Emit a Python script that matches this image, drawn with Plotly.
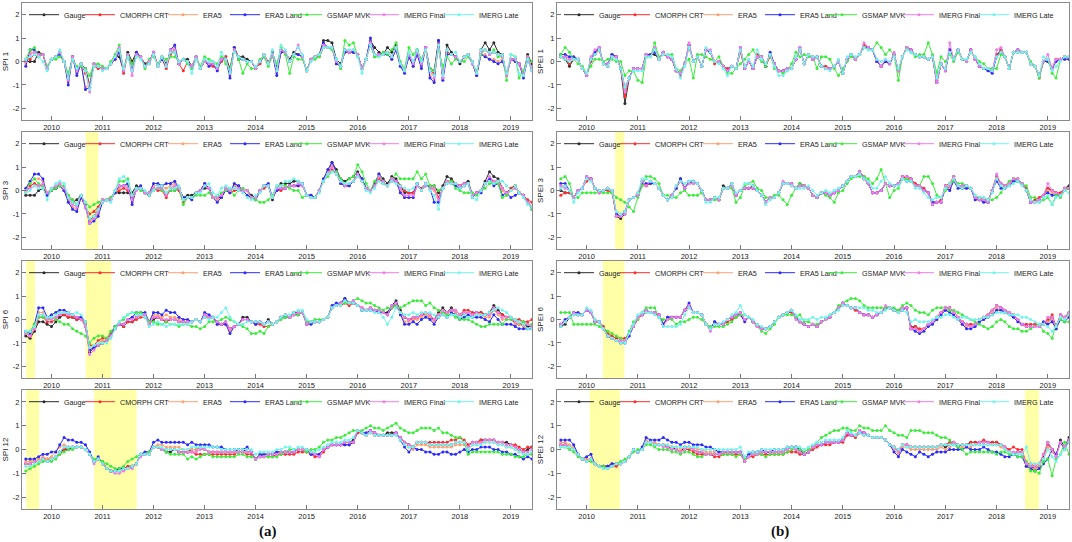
import pandas as pd
import plotly.graph_objects as go

W, H = 1072, 542

# monthly series, Jul 2009 - Jun 2019
DATES = pd.date_range("2009-07-01", periods=120, freq="MS")

SERIES = ["Gauge", "CMORPH CRT", "ERA5", "ERA5 Land", "GSMAP MVK", "IMERG Final", "IMERG Late"]
COLORS = ["#2b2b2b", "#ff2a2a", "#ffa070", "#2a2aff", "#3cec3c", "#f07cf0", "#6ff5ec"]

# all index values below are in tenths
spi1_gauge = [0, 0, 0, 4, 3, -3, 1, 2, 4, 0, -6, 2,
              -3, -1, -3, -10, -1, -2, -3, -3, -1, 2, 2, -4,
              4, 0, 4, 2, -1, 0, 4, -2, 2, -1, 4, 4,
              -1, 1, 1, -2, 2, -3, 0, -1, -1, -3, 1, 2,
              -3, 6, 2, 2, 1, 0, -3, 0, 3, -1, 4, -2,
              5, 4, 1, 4, 3, 2, -4, 1, 2, 3, 9, 9,
              8, 1, -1, 5, 4, 4, 3, -3, 1, 9, 6, 4,
              3, 6, 4, 7, -1, -4, 3, -1, 5, 0, 6, -3,
              -4, 9, -7, 7, 4, 2, -1, 2, 3, 0, -6, 5,
              8, 5, 8, 4, 3, -6, 1, 1, -1, -5, 3, -1]
spi1_cmorph = [1, 1, 3, 2, 3, -3, 1, 2, 4, 0, -7, 2,
               -4, -1, -5, -10, -2, -3, -3, -3, -1, 1, 5, -5,
               3, -1, 3, 2, -2, -1, 3, -1, 1, -3, 3, 5,
               -1, -4, 0, -2, 2, -3, 0, -1, -2, -3, 0, 2,
               -5, 5, 1, 1, 0, 0, -3, -1, 3, 0, 3, -4,
               4, 4, 0, 3, 3, 2, -4, 1, 2, 2, 6, 6,
               6, 0, -2, 5, 4, 4, 3, -3, 1, 7, 2, 3,
               3, 4, 2, 6, -1, -4, 2, -1, 4, 0, 6, -4,
               -5, 8, -7, 4, 3, 2, 0, 2, 3, -1, -5, 4,
               5, 3, 4, 3, 3, -6, 1, 1, -1, -6, 2, -3]
spi1_era5 = [-1, 4, 4, 3, 3, -3, 1, 2, 3, 0, -9, 2,
             -5, -1, -11, -10, -1, -2, -3, -3, -1, 1, 4, -4,
             3, -3, 4, 2, -2, 0, 4, -2, 1, -2, 5, 6,
             -1, 1, 0, -3, 2, -3, 0, -2, -1, -4, 1, 1,
             -6, 6, 1, 1, 0, 0, -3, 0, 2, -1, 3, -5,
             4, 4, 0, 3, 3, 2, -4, 1, 2, 3, 7, 6,
             6, -1, -2, 4, 4, 4, 3, -3, 1, 9, 3, 3,
             3, 3, 1, 5, -2, -4, 2, -2, 3, -2, 6, -6,
             -8, 8, -7, 3, 3, 2, 0, 2, 3, -1, -6, 3,
             3, 1, 1, 0, 1, -5, 1, 0, -1, -6, 1, -3]
spi1_era5land = [-2, 5, 5, 3, 3, -3, 1, 2, 3, 0, -10, 2,
                 -6, -1, -12, -11, -1, -2, -3, -3, -1, 1, 4, -4,
                 3, -4, 4, 2, -2, 0, 4, -2, 1, -2, 5, 7,
                 -1, 1, 0, -3, 2, -3, 0, -2, -1, -4, 1, 1,
                 -7, 6, 1, 1, 0, 0, -3, 0, 2, -1, 3, -6,
                 4, 4, 0, 3, 3, 2, -4, 1, 2, 3, 8, 6,
                 6, -1, -2, 4, 4, 4, 3, -3, 1, 10, 3, 3,
                 3, 3, 1, 5, -2, -5, 2, -2, 3, -3, 6, -7,
                 -9, 9, -8, 3, 3, 2, 0, 2, 3, -1, -6, 3,
                 2, 1, 0, -1, 0, -5, 1, 0, -1, -7, 1, -4]
spi1_gsmap = [1, 5, 6, 2, 3, -2, 1, 1, 2, 0, -5, 1,
              -2, -2, -3, -6, -1, -1, -2, -3, 0, 3, 7, -3,
              3, -1, 2, 2, -3, 1, 2, -1, 2, 1, 2, 2,
              0, 1, -1, -3, 2, -2, 2, 1, 0, -1, 2, -1,
              -3, 5, 1, -5, -1, -3, -3, 1, 2, -2, 2, -1,
              6, 3, -5, 2, 1, 1, -4, 1, 1, 2, 6, 6,
              5, 1, -3, 9, 7, 8, 2, -3, 1, 7, 2, 2,
              4, 3, 5, 8, 0, -3, 6, 3, 5, 1, 5, -3,
              -4, 5, -2, 2, -1, 1, 0, 0, 2, -1, -4, 3,
              5, 3, 5, 2, 2, -8, 3, 2, -7, -4, 2, 0]
spi1_imergf = [0, 3, 4, 3, 3, -3, 1, 2, 4, 0, -8, 2,
               -4, -1, -4, -13, -1, -2, -3, -3, -1, 2, 6, -4,
               3, -6, 3, 2, -2, 0, 4, -2, 2, -2, 5, 5,
               -1, 1, 0, -2, 2, -3, 0, -1, -1, -3, 1, 1,
               -5, 5, 2, 1, 0, 0, -3, 0, 3, -1, 3, -4,
               5, 4, 0, 3, 7, 2, -4, 1, 2, 3, 7, 6,
               6, 0, -2, 5, 4, 5, 3, -3, 1, 8, 3, 3,
               3, 4, 2, 6, -1, -4, 3, -1, 4, -1, 6, -4,
               -7, 7, -7, 5, 3, 2, 0, 2, 3, -1, -5, 4,
               5, 3, 4, 3, 2, -6, 1, 1, -1, -6, 2, -3]
spi1_imergl = [1, 2, 3, 2, 0, -4, 1, 2, 5, 0, -7, 1,
               -3, -1, -4, -12, -2, -2, -4, -3, -1, 2, 5, -3,
               2, -4, 2, 1, -2, -1, 3, -2, 2, -2, 4, 4,
               0, 1, 0, -5, 1, -3, 1, 0, 0, -2, 4, 1,
               -5, 4, 2, 1, 0, 0, -2, 0, 3, -1, 5, -4,
               7, 5, 0, 3, 6, 3, -4, 0, 2, 3, 6, 6,
               6, 1, -2, 5, 5, 5, 2, -5, 1, 7, 3, 2,
               3, 4, 2, 6, -1, -4, 4, 0, 5, 0, 5, -4,
               -6, 7, -6, 5, 3, 4, 0, 2, 3, 0, -5, 5,
               5, 4, 4, 3, 3, -5, 3, 2, -5, -6, 1, -4]

spi3_gauge = [-2, -2, -2, 0, 1, -2, 0, 1, 2, 0, -3, -5,
              -4, -2, -6, -13, -11, -8, -4, -4, -4, -1, -1, -1,
              -1, -1, 2, 1, -1, -2, 0, 1, 1, -2, 0, 0,
              1, -3, -2, -2, -1, 0, 1, 1, -3, -3, -3, 1,
              0, 2, 2, 0, 0, -2, -3, 0, 2, 2, -4, 1,
              3, 3, 3, 4, 4, 3, -2, -2, -3, 0, 4, 7,
              12, 9, 5, 4, 5, 6, 8, 5, 1, 0, 3, 7,
              5, 3, 6, 5, 2, -1, -1, -1, 3, 0, 2, 2,
              2, -1, 2, 6, 5, 3, 2, 3, 4, -2, -1, 0,
              4, 8, 6, 5, 1, -1, 1, 2, -1, -2, -5, -7]
spi3_cmorph = [-1, 2, 3, 2, 2, -2, 1, 1, 3, 1, -2, -4,
               -6, -3, -7, -10, -9, -7, -4, -4, -3, -1, 0, 1,
               0, -3, 1, 1, -1, -1, 1, 0, 0, -3, 1, 1,
               0, -5, -3, -3, -1, 0, 3, 1, -3, -3, -2, 0,
               -1, 0, 0, 0, 0, -3, -3, 0, 1, 2, -3, 0,
               0, 1, 2, 2, 2, 2, -2, -3, -3, 0, 4, 7,
               9, 7, 4, 2, 2, 4, 6, 4, 1, 0, 2, 5,
               3, 2, 4, 4, 2, 0, -1, -1, 2, 1, 3, 1,
               1, -3, 1, 4, 4, 3, 2, 3, 3, -2, -1, 0,
               3, 5, 4, 4, 1, -1, 1, 2, -1, -2, -4, -5]
spi3_era5 = [0, 4, 5, 5, 4, -2, 0, 1, 2, 0, -4, -7,
             -8, -3, -7, -13, -12, -10, -5, -4, -4, -1, 1, 2,
             2, -5, 1, 2, -1, -1, 2, 2, 2, 1, 2, 3,
             1, -3, -3, -3, -1, 0, 2, 1, -3, -4, -3, 0,
             -1, 2, 2, 0, -2, -3, -4, 0, 2, 2, -3, 0,
             1, 1, 2, 2, 2, 3, -2, -2, -3, 0, 5, 8,
             11, 8, 3, 2, 2, 4, 7, 4, 1, 0, 2, 6,
             3, 2, 5, 4, 0, -3, -3, -3, 2, 0, 3, 1,
             0, -5, 1, 3, 3, 2, 1, 2, 3, -3, -1, -1,
             3, 5, 3, 3, 0, -2, 0, 1, -1, -2, -5, -7]
spi3_era5land = [1, 4, 7, 7, 5, -2, 0, 1, 2, 0, -5, -8,
                 -9, -3, -7, -14, -13, -11, -5, -4, -4, -1, 2, 2,
                 3, -6, 1, 2, -1, -1, 3, 3, 2, 3, 3, 4,
                 1, -3, -3, -4, -1, 0, 3, 1, -3, -5, -3, 0,
                 -1, 3, 2, 0, -2, -3, -4, 0, 2, 3, -3, 0,
                 1, 1, 2, 2, 2, 3, -2, -2, -3, 0, 5, 9,
                 12, 8, 3, 2, 2, 4, 7, 5, 1, 0, 2, 7,
                 3, 2, 5, 4, -1, -3, -3, -3, 3, 0, 3, 1,
                 -5, -5, 1, 3, 3, 2, 1, 2, 3, -3, -1, -1,
                 3, 5, 2, 3, -2, -1, -3, -2, -1, -2, -5, -8]
spi3_gsmap = [0, 3, 5, 3, 2, -1, 0, 1, 2, 2, -2, -4,
              -6, -2, -5, -7, -6, -5, -4, -4, -3, 0, 4, 4,
              5, -2, 1, 0, -1, -1, 0, 1, 0, -1, 0, 0,
              1, -6, -3, -3, -2, -2, -2, -1, -3, -2, -1, 0,
              1, -2, 0, 1, 0, -3, -4, -5, -5, -4, -2, 2,
              2, 2, 1, 0, 0, -3, -2, -3, -3, 0, 4, 6,
              8, 8, 5, 3, 5, 6, 11, 8, 3, 0, 4, 6,
              4, 2, 5, 7, 5, 5, 5, 5, 8, 5, 7, 2,
              2, 0, 1, 4, 4, 1, 0, -1, -1, -1, -2, 0,
              1, 3, 3, 3, -3, -2, 0, 2, -1, -3, -5, -8]
spi3_imergf = [0, 1, 2, 2, 3, -1, 1, 2, 3, 1, -3, -6,
               -7, -2, -7, -14, -12, -9, -4, -4, -4, 0, 2, 2,
               1, -4, 0, 1, -1, -1, 1, 1, 1, -2, 1, 2,
               1, -4, -3, -3, -1, 0, 2, 1, -3, -3, -2, 1,
               0, 1, 1, 0, 0, -3, -3, 0, 2, 2, -3, 1,
               1, 1, 2, 2, 3, 2, -2, -3, -3, 0, 4, 7,
               10, 7, 4, 2, 3, 4, 7, 4, 1, 0, 2, 6,
               4, 2, 5, 4, 1, -2, -2, -2, 2, 0, 2, 1,
               1, -4, 1, 4, 3, 3, 2, 3, 3, -2, -1, 0,
               3, 6, 4, 4, 1, -1, 0, 1, -1, -2, -5, -7]
spi3_imergl = [-1, 0, 2, 1, 1, -4, 1, 3, 4, 3, -3, -5,
               -6, -2, -5, -12, -11, -8, -5, -4, -5, 0, 5, 6,
               4, -2, 1, 1, 0, -2, 0, 2, 2, -1, 1, 1,
               2, -4, -3, -3, -1, -1, 2, 3, -1, -2, 1, 2,
               1, 1, 0, -1, -3, -4, -2, -1, 2, 2, -3, 2,
               2, 4, 4, 5, 4, 3, -2, -3, -3, -1, 4, 7,
               8, 7, 4, 3, 3, 4, 6, 4, 0, -1, 1, 4,
               3, 2, 4, 3, 2, 1, 0, 1, 3, 0, 3, 0,
               -2, -8, 1, 3, 3, 3, 1, 2, 3, -3, -4, 0,
               3, 4, 3, 4, 4, 2, 0, 2, -1, -3, -6, -7]

spi6_gauge = [-7, -8, -5, -1, -1, -2, -3, -1, 1, 2, 1, 1,
              0, 1, -3, -14, -12, -11, -10, -9, -7, -4, -2, -3,
              -1, -1, 1, 2, 2, -2, 0, 1, 0, -1, 0, 0,
              -1, -1, -1, -1, 0, -1, 2, 1, 1, -1, -2, -1,
              -4, -3, -2, 1, 1, -1, -1, -1, -2, 0, -2, -1,
              1, 2, 1, 3, 3, 3, -1, -1, -1, -1, 0, 1,
              5, 6, 7, 9, 7, 8, 6, 4, 4, 5, 4, 4,
              3, 3, 6, 8, 4, 1, 0, 1, 1, 2, 2, 1,
              0, 3, 5, 3, 5, 3, 1, 3, 3, 2, 3, 3,
              2, 3, 6, 4, 2, 1, 1, -2, -2, -2, -3, -3]
spi6_cmorph = [-6, -7, -4, 1, 1, -1, -1, 0, 2, 2, 1, 1,
               0, 0, -2, -11, -11, -9, -8, -8, -6, -3, -2, -3,
               -1, -1, 0, 1, 1, -2, 1, 1, 0, -1, 0, 0,
               -1, -1, -1, -1, 0, -1, 1, 1, 1, -2, -2, -2,
               -4, -3, -2, 0, 0, -1, -2, -2, -3, -3, -2, -1,
               1, 2, 1, 2, 3, 3, -2, -1, -1, -1, 0, 1,
               5, 6, 6, 7, 6, 7, 6, 5, 4, 5, 4, 3,
               3, 2, 5, 6, 3, 1, 0, 0, 1, 2, 3, 2,
               0, 2, 3, 3, 4, 4, 2, 4, 4, 3, 3, 3,
               2, 2, 4, 3, 2, 1, 1, 0, 0, -1, -1, 0]
spi6_era5 = [-6, -7, -4, 3, 3, 0, 1, 1, 3, 3, 2, 2,
             1, 1, -2, -13, -12, -10, -9, -9, -7, -3, -2, -2,
             0, 1, 2, 2, 2, -1, 2, 2, 1, 2, 1, 1,
             0, -1, -1, -1, 0, -1, 2, 1, 1, -2, -2, -2,
             -5, -3, -2, 0, 0, -1, -2, -1, -2, -1, -2, -1,
             1, 2, 1, 2, 2, 3, -1, -1, -1, -1, 0, 1,
             5, 6, 7, 8, 7, 7, 6, 4, 4, 5, 4, 3,
             3, 2, 5, 6, 3, -1, -1, 0, 0, 1, 2, 1,
             -1, 2, 3, 2, 4, 3, 1, 2, 3, 2, 2, 2,
             1, 1, 4, 2, 0, 0, 0, -2, -2, -3, -4, -4]
spi6_era5land = [-5, -6, -2, 5, 5, 1, 2, 3, 4, 4, 3, 2,
                 1, 1, -1, -13, -12, -11, -10, -9, -7, -3, -2, -2,
                 0, 1, 3, 3, 3, -1, 3, 3, 2, 4, 3, 3,
                 1, 0, 0, -1, 0, -1, 3, 2, 1, -2, -2, -2,
                 -6, -3, -2, 0, 0, -1, -2, -1, -2, -1, -2, -1,
                 1, 1, 1, 2, 2, 3, -2, -2, -1, -1, 0, 1,
                 6, 7, 7, 9, 7, 7, 6, 4, 4, 4, 4, 3,
                 3, 2, 5, 7, 2, -2, -2, -1, -2, 0, 1, 0,
                 -2, 1, 2, 1, 3, 2, 0, 1, 2, 1, 1, 1,
                 0, -1, 2, 0, -2, -2, -2, -3, -4, -4, -4, -4]
spi6_gsmap = [-6, -5, -2, 1, 1, 0, 1, 0, -1, -2, -2, -4,
              -5, -6, -7, -10, -8, -7, -7, -8, -5, -3, -1, 0,
              2, 3, 3, 3, 2, -1, -1, -2, -2, -1, -2, -2,
              -3, -2, -2, -3, -3, -4, -3, -1, -1, -1, 0, 1,
              0, -1, -2, -3, -4, -6, -6, -5, -6, -3, -2, -1,
              0, 1, 1, 2, 2, 3, -1, -1, 0, 0, 0, 1,
              5, 6, 7, 7, 7, 8, 9, 8, 7, 7, 6, 5,
              4, 5, 5, 6, 5, 6, 7, 8, 8, 8, 6, 7,
              5, 4, 3, 2, 2, 1, 0, 0, 0, -1, -2, -3,
              -3, -2, -2, -2, -2, 0, 0, 0, -1, -1, -2, -2]
spi6_imergf = [-6, -7, -4, 2, 2, 0, 0, 1, 2, 3, 2, 2,
               1, 0, -3, -15, -13, -11, -10, -9, -7, -4, -2, -2,
               0, 0, 1, 2, 2, -2, 1, 1, 0, 0, 0, 0,
               -1, -1, -1, -1, 0, -1, 2, 1, 1, -1, -2, -1,
               -4, -3, -2, 0, 0, -1, -1, -1, -2, -1, -2, -1,
               1, 2, 1, 2, 3, 3, -2, -1, -1, -1, 0, 1,
               5, 6, 7, 8, 7, 8, 6, 5, 4, 5, 4, 4,
               3, 2, 6, 7, 3, 1, 0, 1, 1, 2, 3, 2,
               0, 2, 4, 3, 4, 4, 2, 3, 3, 2, 3, 2,
               2, 2, 5, 3, 1, 1, 1, -1, -1, -2, -2, -3]
spi6_imergl = [-5, -5, -3, 2, 2, 1, 1, 2, 3, 3, 3, 2,
               3, 2, -1, -12, -11, -10, -10, -10, -8, -4, -1, 1,
               2, 3, 2, 2, 1, -3, -2, -1, -2, -3, -2, -2,
               -2, -2, -2, -1, 0, -1, 1, 0, 1, 1, 3, 5,
               1, -1, -2, -2, -1, -1, -1, -1, -2, -1, -2, -1,
               1, 2, 2, 3, 4, 4, 0, -1, -1, -1, 0, 1,
               5, 6, 6, 8, 7, 7, 6, 4, 4, 4, 3, 3,
               1, -2, 1, 5, 3, 2, 2, 3, 2, 3, 3, 3,
               2, 1, 2, 1, 2, 2, 1, 2, 1, 1, 2, 2,
               2, 3, 4, 5, 4, 3, 1, 0, -1, -2, -4, -4]

spi12_gauge = [-6, -6, -5, -5, -4, -5, -4, -3, -1, 0, 0, 1,
               1, 1, 0, -2, -5, -4, -5, -8, -9, -9, -9, -8,
               -8, -7, -6, -2, -2, -2, 1, 1, 0, -1, -1, 0,
               -1, -1, -1, 0, 0, 1, 0, -1, -1, -1, -1, -1,
               -1, -1, 0, 0, -1, -1, -4, -3, -2, -2, -2, -1,
               -1, -1, -1, -1, 0, 0, 0, -1, -2, -2, 0, 1,
               2, 2, 2, 3, 3, 4, 8, 7, 6, 8, 7, 6,
               6, 7, 7, 7, 5, 3, 2, 1, 3, 3, 3, 2,
               2, 2, 2, 2, 2, 3, 3, 3, 1, 3, 3, 4,
               4, 4, 4, 3, 3, 3, 2, 1, 0, -1, 0, 1]
spi12_cmorph = [-6, -6, -5, -5, -4, -4, -4, -3, -2, 0, 1, 1,
                1, 1, 0, -2, -5, -4, -6, -8, -9, -9, -9, -8,
                -7, -7, -6, -2, -2, -2, 1, 1, 0, 0, 0, 0,
                -1, -1, -1, -1, -2, -2, -2, -2, -2, -2, -2, -2,
                -2, -2, -1, -1, -2, -2, -4, -3, -3, -3, -3, -2,
                -2, -2, -2, -2, -1, -1, -1, -2, -3, -3, -1, 1,
                2, 2, 2, 2, 2, 3, 7, 7, 6, 7, 6, 6,
                6, 6, 6, 7, 5, 3, 2, 1, 3, 3, 3, 3,
                3, 3, 3, 3, 4, 4, 5, 4, 2, 3, 3, 4,
                4, 4, 4, 3, 3, 2, 2, 2, 1, 0, 1, 1]
spi12_era5 = [-5, -5, -4, -4, -3, -4, -3, -1, 1, 2, 1, 1,
              1, 1, 0, -2, -5, -4, -5, -8, -9, -9, -9, -8,
              -8, -7, -6, -2, -2, -2, 1, 2, 2, 1, 1, 1,
              1, 0, 0, 0, 0, 1, 0, -1, -1, -1, -1, -1,
              -1, -1, -1, -1, -1, -1, -4, -2, -2, -2, -2, -1,
              -1, -1, -1, -1, 0, 0, 0, -1, -2, -2, 0, 1,
              2, 2, 2, 2, 2, 3, 8, 7, 6, 8, 6, 6,
              6, 6, 6, 7, 4, 2, 1, 0, 2, 2, 2, 1,
              1, 1, 1, 1, 1, 2, 2, 2, 0, 2, 2, 3,
              3, 3, 3, 2, 2, 1, 1, 0, -1, -2, -2, -2]
spi12_era5land = [-4, -4, -4, -3, -2, -2, -1, -1, 2, 5, 4, 4,
                  3, 3, 2, -1, -5, -3, -6, -8, -9, -9, -8, -8,
                  -8, -7, -6, -2, -1, -1, 3, 4, 3, 3, 3, 3,
                  3, 3, 2, 3, 2, 2, 2, 2, 1, 1, 1, 0,
                  0, 0, 0, 0, 1, -1, -4, -2, -2, -2, -2, -1,
                  -1, -1, -1, -1, 0, 0, 0, -2, -2, -2, 0, 1,
                  2, 2, 2, 2, 2, 3, 8, 7, 7, 8, 7, 6,
                  6, 6, 6, 7, 4, 1, -1, 1, 0, 0, -1, -1,
                  -2, -2, -1, -1, -2, -2, -1, 0, -1, 0, 0, 1,
                  1, 1, 0, 0, -1, -1, -2, -2, -3, -4, -3, -4]
spi12_gsmap = [-9, -8, -7, -6, -5, -5, -5, -4, -2, -1, 0, 0,
               1, 1, 0, -2, -4, -4, -5, -6, -7, -8, -8, -7,
               -5, -4, -3, -2, -2, -1, 1, 1, 0, -1, -2, -2,
               -2, -2, -4, -3, -4, -3, -2, -2, -3, -3, -3, -3,
               -3, -3, -2, -2, -3, -3, -4, -3, -3, -3, -3, -3,
               -2, -1, 0, 0, 0, 0, -1, 0, 0, 1, 3, 4,
               4, 5, 5, 6, 7, 8, 8, 8, 9, 10, 9, 9,
               8, 9, 10, 11, 9, 8, 7, 7, 8, 9, 9, 9,
               8, 9, 7, 7, 6, 5, 5, 3, -2, -1, -1, -1,
               -1, -1, -1, -1, -2, -2, -2, -3, -3, -3, -2, -2]
spi12_imergf = [-6, -6, -5, -5, -4, -5, -4, -3, -1, 1, 1, 1,
                1, 1, 0, -2, -6, -4, -6, -8, -9, -10, -10, -9,
                -8, -8, -6, -3, -2, -2, 1, 1, 0, 0, 0, 0,
                -1, -1, -1, -1, -1, 0, 0, -1, -1, -1, -1, -1,
                -1, -1, -1, -1, -1, -1, -4, -3, -3, -2, -2, -2,
                -1, -1, -1, -1, 0, 0, 0, -1, -2, -3, 0, 1,
                2, 2, 2, 3, 3, 3, 8, 7, 6, 8, 7, 6,
                6, 6, 6, 7, 5, 3, 2, 1, 3, 3, 3, 2,
                2, 2, 2, 2, 2, 3, 3, 3, 1, 3, 3, 3,
                4, 4, 4, 3, 3, 2, 2, 1, 0, -1, -1, 0]
spi12_imergl = [-7, -7, -6, -5, -4, -5, -4, -3, -1, 1, 1, 1,
                1, 1, 0, -2, -5, -4, -6, -8, -9, -9, -9, -8,
                -8, -7, -6, -2, -2, -2, 1, 1, 1, 0, 0, 0,
                0, 0, 0, 1, 1, 1, 1, 1, 1, 1, 0, 0,
                0, 0, 0, 0, 0, 0, -2, -1, -1, -1, -1, 0,
                0, 1, 1, 0, 1, 1, 0, -1, -1, 0, 1, 2,
                3, 3, 3, 4, 4, 5, 8, 7, 6, 7, 6, 6,
                6, 6, 6, 6, 4, 2, 1, 1, 3, 3, 3, 2,
                2, 2, 2, 2, 2, 3, 3, 3, 0, 2, 2, 2,
                3, 3, 3, 2, 2, 1, 1, 0, -1, -2, -2, -1]

spei1_gauge = [2, 1, -2, 1, 1, -3, -6, 1, 3, 5, -1, -2,
               3, 2, -3, -18, -7, -3, -3, -3, 3, 3, 3, 1,
               4, 2, 1, -4, -5, -1, 7, 0, 2, -2, 5, 4,
               0, 0, -2, -4, -2, -3, 5, -3, 0, -3, 2, 2,
               -2, 3, -1, -4, -4, -3, -3, 1, 5, -1, 3, 1,
               2, -2, -3, -3, -2, 0, -5, 1, 3, 1, 3, 6,
               6, 5, 0, -2, 0, -1, 3, -4, 2, 6, 5, 3,
               2, 2, 1, 2, -9, -1, -4, 5, 1, 5, 1, 0,
               5, 1, -2, -3, -3, -4, 2, 5, 2, -3, 4, 5,
               4, 4, -1, -2, -6, 0, 1, -3, 1, 1, 2, 2]
spei1_cmorph = [2, 2, -1, 1, 1, -3, -6, 0, 4, 5, -1, -1,
                2, 2, -3, -15, -7, -3, -3, -3, 2, 3, 4, 1,
                3, 2, 1, -4, -6, -1, 6, 0, 2, -2, 5, 4,
                -1, 0, -2, -3, -2, -3, 4, -3, 0, -3, 3, 2,
                -2, 2, -1, -4, -4, -3, -3, 1, 5, -1, 3, 2,
                2, -2, -2, -3, -2, 0, -5, 1, 3, 1, 3, 7,
                6, 5, 0, -2, 0, -1, 3, -4, 2, 6, 5, 3,
                2, 2, 1, 2, -8, -1, -3, 5, 1, 5, 1, 0,
                5, 1, -2, -3, -3, -4, 3, 5, 2, -3, 4, 4,
                4, 4, -1, -2, -7, 0, 0, -3, 1, 1, 2, 2]
spei1_era5 = [3, 3, 1, 2, 1, -3, -6, 1, 4, 6, -1, -1,
              3, 2, -3, -12, -7, -3, -3, -3, 3, 3, 4, 1,
              4, 2, 1, -4, -5, -1, 7, 0, 2, -2, 5, 4,
              0, 0, -2, -4, -2, -3, 5, -3, 0, -3, 2, 2,
              -2, 3, -1, -4, -4, -3, -3, 1, 5, -1, 3, 1,
              2, -2, -3, -3, -2, 0, -5, 1, 3, 1, 3, 6,
              6, 5, 0, -2, 0, -1, 3, -4, 2, 6, 5, 3,
              2, 2, 1, 2, -9, -1, -4, 5, 1, 5, 1, 0,
              5, 1, -2, -3, -3, -4, 2, 4, 2, -3, 4, 5,
              4, 4, -1, -2, -6, 0, 1, -3, 1, 1, 1, 1]
spei1_era5land = [3, 3, 2, 2, 1, -3, -6, 1, 4, 6, -1, -1,
                  3, 2, -3, -11, -7, -3, -3, -3, 3, 3, 4, 1,
                  4, 2, 1, -4, -5, -1, 7, 0, 2, -2, 5, 4,
                  0, 0, -2, -4, -2, -3, 6, -3, 0, -3, 2, 2,
                  -2, 4, -1, -4, -4, -3, -3, 1, 6, -1, 3, 1,
                  2, -2, -3, -3, -2, 0, -5, 1, 3, 1, 3, 6,
                  6, 5, 0, -2, 0, -1, 3, -4, 2, 6, 5, 3,
                  2, 2, 1, 2, -9, -1, -4, 5, 1, 5, 1, 0,
                  5, 1, -2, -3, -4, -5, 2, 4, 2, -3, 4, 5,
                  4, 4, -1, -2, -6, 0, 0, -3, 0, 1, 1, 1]
spei1_gsmap = [3, 6, 4, 1, -1, -2, -5, -2, 1, 1, 0, 1,
               1, 0, 0, -6, -4, -4, -8, -9, 2, 2, 8, 2,
               3, 3, 3, -3, -4, -1, 1, -7, 3, 3, 2, 1,
               0, 2, -2, -5, -5, -3, -1, 1, 3, 5, 2, 0,
               -2, 3, -3, -4, -5, -4, -1, 4, 2, 3, 2, 2,
               -3, 2, 2, 1, -3, -6, -3, 0, 2, 1, 3, 6,
               5, 5, 8, 6, 3, 5, 3, -8, 2, 6, 4, 2,
               3, 3, 8, 3, -5, 2, 0, 3, 0, 4, 1, 0,
               4, 2, 0, -1, -3, -3, -3, 3, 2, -3, 4, 4,
               4, 4, 0, -2, -7, 0, 1, -5, -7, 1, 2, 2]
spei1_imergf = [2, 2, 1, 1, 1, -3, -6, 2, 5, 6, -1, -1,
                2, 2, -3, -13, -7, -3, -3, -3, 3, 2, 6, 1,
                4, 2, 1, -4, -5, -1, 8, 0, 2, -2, 5, 5,
                0, 0, -2, -4, -2, -3, 6, -3, 0, -3, 2, 2,
                -1, 3, -1, -4, -4, -3, -3, 1, 6, -1, 3, 1,
                2, -2, -3, -3, -2, 0, -5, 1, 3, 1, 3, 8,
                6, 5, 1, -2, 1, -1, 4, -4, 2, 6, 5, 3,
                2, 2, 1, 2, -9, -1, -4, 8, 1, 5, 1, 0,
                5, 1, -2, -3, -3, -4, 5, 6, 2, -3, 4, 5,
                4, 4, -1, -2, -6, 0, 3, -3, 1, 1, 2, 2]
spei1_imergl = [2, 1, 0, 1, 1, -3, -5, 1, 3, 5, -1, -2,
                2, 1, -3, -11, -7, -4, -4, -4, 2, 2, 5, 1,
                3, 3, 2, -3, -7, -2, 6, 0, 2, -2, 6, 4,
                0, -1, -3, -6, -2, -3, 5, -2, 1, -2, 5, 1,
                -1, 3, -2, -6, -6, -4, -3, 2, 5, -1, 3, 2,
                2, -2, -3, -4, -2, 1, -5, 2, 3, 2, 3, 6,
                5, 5, 1, 0, 1, 0, 2, -3, 2, 5, 4, 3,
                2, 2, 1, 2, -7, -1, -3, 4, 1, 5, 1, 1,
                4, 2, -1, -3, -3, -4, 2, 4, 2, -3, 4, 4,
                4, 4, -1, -2, -6, 2, 1, -4, -2, 0, 2, 2]

spei3_gauge = [0, -1, -1, -3, 0, 1, 5, 5, 1, -1, 0, 1,
               0, -11, -12, -10, -4, -3, -2, 4, 2, 4, 3, 1,
               -2, -4, -2, 1, 5, 1, 3, 4, 3, 0, -4, -4,
               -3, -4, 2, 1, 3, -2, 0, 1, 1, 2, 0, -2,
               -5, -3, -3, -1, 3, 3, 3, 1, 3, 2, 1, -2,
               -3, -1, -1, -2, -1, 0, 2, 4, 6, 6, 8, 5,
               3, -1, -1, 0, 3, 2, 2, 3, 6, 6, 5, 2,
               2, 0, -1, -6, -5, -5, 2, 1, 6, 2, 2, 2,
               1, -3, -4, -4, -5, 0, 6, 3, 2, 3, 5, 5,
               3, 0, -5, -5, -4, -2, 1, 0, -1, -2, 1, 2]
spei3_cmorph = [-2, -1, -1, -3, 0, 1, 4, 5, 1, -1, 0, 0,
                -1, -10, -11, -9, -4, -3, -1, 3, 2, 3, 3, 1,
                -2, -4, -2, 1, 4, 1, 3, 3, 3, -1, -4, -4,
                -3, -4, 1, 1, 2, -2, 0, 1, 1, 1, 0, -2,
                -5, -3, -3, -1, 3, 3, 2, 1, 2, 2, 1, -2,
                -3, -1, -1, -2, -1, 0, 2, 4, 6, 6, 8, 6,
                3, -1, -1, 0, 3, 2, 2, 3, 6, 5, 5, 3,
                2, 1, -1, -5, -5, -4, 2, 3, 6, 2, 2, 2,
                1, -3, -3, -4, -4, 0, 6, 3, 2, 3, 5, 4,
                3, 1, -5, -4, -3, -2, 1, 0, -1, -1, 1, 1]
spei3_era5 = [2, 2, 0, -3, 0, 1, 5, 5, 1, 0, 0, 1,
              0, -10, -11, -9, -4, -3, -2, 3, 3, 3, 3, 1,
              -2, -4, -2, 1, 4, 1, 3, 3, 3, 0, -4, -4,
              -3, -4, 1, 1, 2, -2, 0, 1, 1, 1, 0, -2,
              -5, -3, -3, -1, 3, 3, 3, 1, 2, 2, 1, -2,
              -3, -1, -1, -2, -1, 0, 2, 4, 6, 6, 8, 5,
              3, -1, -1, 0, 3, 2, 2, 3, 5, 5, 4, 2,
              2, 0, -1, -5, -5, -5, 1, 1, 5, 2, 1, 1,
              1, -3, -4, -4, -5, 0, 5, 2, 1, 3, 4, 4,
              3, 0, -5, -5, -4, -2, 0, -1, -2, -2, 0, 1]
spei3_era5land = [3, 3, 0, -3, 0, 1, 6, 5, 1, 0, 0, 1,
                  0, -10, -11, -9, -4, -3, -2, 3, 3, 3, 3, 1,
                  -2, -4, -2, 1, 5, 1, 4, 4, 3, 0, -4, -4,
                  -3, -4, 1, 1, 2, -2, 0, 1, 1, 1, 0, -2,
                  -5, -3, -3, -1, 3, 3, 3, 1, 2, 2, 1, -2,
                  -3, -1, -1, -2, -1, 0, 2, 4, 6, 6, 8, 5,
                  3, -1, -1, 0, 3, 2, 2, 3, 5, 4, 4, 2,
                  2, 0, -1, -5, -5, -5, 1, 0, 4, 1, 1, 1,
                  1, -4, -4, -5, -5, 0, 4, 1, 1, 2, 4, 4,
                  3, 0, -5, -5, -4, -2, -1, -2, -2, -2, 0, 1]
spei3_gsmap = [5, 6, 3, -3, -3, -1, -1, -1, -1, -1, -1, -1,
               -1, -3, -4, -5, -7, -9, -3, 2, 6, 6, 5, 3,
               -2, -2, -3, -3, -1, 0, -2, -2, -2, -1, -4, -4,
               -4, -4, 1, 1, 1, -5, -3, 2, 3, 4, 1, 0,
               -3, -3, -2, -2, -4, -6, -2, 1, 3, 2, 1, -2,
               -3, -1, -2, -3, -5, -1, 0, 3, 5, 6, 6, 6,
               5, 3, 5, 9, 3, -3, 0, 1, 5, 5, 4, 2,
               2, 6, 6, 3, -2, -3, 0, 3, 4, 3, 3, 2,
               1, -2, -3, -3, -4, -4, -3, -1, 2, 4, 5, 4,
               3, 2, -3, -3, -5, -4, -3, -6, -2, -3, 0, 1]
spei3_imergf = [2, 1, 0, -3, 0, 1, 6, 5, 1, -1, 0, 1,
                0, -11, -11, -10, -4, -3, -2, 4, 2, 4, 3, 1,
                -2, -4, -2, 2, 4, 1, 3, 3, 3, 0, -4, -4,
                -3, -4, 1, 1, 2, -2, 0, 1, 1, 1, 0, -2,
                -5, -3, -3, -1, 4, 3, 3, 1, 2, 2, 1, -2,
                -3, -1, -1, -2, -1, 0, 2, 4, 6, 6, 8, 5,
                3, -1, -1, 0, 3, 2, 2, 3, 6, 6, 5, 2,
                2, 0, -1, -6, -5, -5, 2, 2, 6, 2, 2, 2,
                1, -3, -4, -4, -5, 0, 7, 3, 2, 3, 5, 5,
                3, 0, -5, -5, -4, -2, 3, 0, -1, -2, 1, 1]
spei3_imergl = [1, 2, 0, -5, -1, 1, 5, 4, 1, 0, 0, 1,
                0, -9, -10, -9, -4, -3, -1, 5, 5, 4, 3, 1,
                -2, -4, -3, 2, 4, 3, 4, 4, 3, 0, -5, -5,
                -3, -3, 1, 1, 3, -1, 0, 3, 3, 2, 0, -2,
                -6, -4, -3, -1, 3, 3, 2, 1, 1, 1, 2, 0,
                -2, -1, 0, -1, 0, 1, 2, 4, 6, 6, 7, 5,
                4, 1, 1, 4, 6, 3, 2, 2, 5, 4, 4, 1,
                1, -1, -3, -4, -3, -3, 1, 3, 5, 2, 1, 2,
                1, -2, -3, -3, -4, -1, 5, 2, 1, 2, 3, 4,
                2, 0, -4, -5, -5, -3, -2, -6, -3, -2, 0, -1]

spei6_gauge = [-3, -2, 1, 3, 2, 2, 4, 3, -1, -1, -4, -7,
               -8, -9, -9, -9, -6, -3, 1, 2, 4, 3, 3, 2,
               -2, 1, 1, 1, 1, 4, 6, 3, 3, 2, -2, -4,
               -1, -2, -2, 0, 1, 2, 3, 0, 1, -1, -3, -4,
               -4, -3, -1, 1, 2, 3, 4, 1, -1, -2, -3, -2,
               -3, -1, 0, 1, 3, 5, 7, 6, 5, 5, 3, 2,
               2, 1, 2, 3, 5, 5, 4, 3, 5, 5, -4, -3,
               -5, -4, -2, -1, 1, 3, 5, 5, 3, 1, -1, -2,
               -3, -2, 0, 1, 2, 4, 6, 5, 4, 3, 2, 0,
               -2, -3, -3, -3, -3, -2, -1, 1, -4, 2, 1, 3]
spei6_cmorph = [-2, -1, 1, 2, 2, 2, 4, 3, 0, -1, -3, -6,
                -7, -8, -8, -8, -6, -3, 0, 2, 3, 3, 3, 1,
                -2, 0, 1, 1, 1, 4, 5, 3, 3, 2, -2, -4,
                -2, -2, -2, -1, 0, 1, 2, 0, 1, -1, -2, -4,
                -4, -3, -1, 1, 2, 3, 3, 1, -1, -2, -3, -2,
                -3, -1, 0, 1, 3, 5, 6, 6, 5, 4, 3, 2,
                2, 1, 2, 3, 5, 5, 4, 4, 5, 5, -3, -3,
                -4, -4, -2, -1, 1, 3, 5, 5, 3, 1, -1, -2,
                -2, -2, 0, 1, 2, 4, 6, 5, 4, 3, 2, 0,
                -2, -2, -2, -2, -2, -2, 0, 2, -3, 2, 1, 2]
spei6_era5 = [-2, -1, 1, 3, 2, 2, 4, 3, -1, -1, -4, -7,
              -8, -9, -9, -9, -6, -3, 1, 2, 4, 3, 3, 2,
              -2, 1, 1, 1, 1, 4, 6, 3, 3, 2, -2, -4,
              -1, -2, -2, 0, 1, 2, 2, 0, 1, -1, -3, -4,
              -4, -3, -1, 1, 2, 3, 4, 1, -1, -2, -3, -2,
              -3, -1, 0, 1, 3, 5, 7, 6, 5, 5, 3, 2,
              2, 1, 2, 3, 5, 5, 4, 3, 5, 5, -4, -4,
              -5, -4, -2, -1, 0, 2, 4, 4, 3, 1, -2, -3,
              -3, -2, 0, 1, 2, 3, 5, 4, 3, 3, 2, 0,
              -2, -3, -3, -3, -3, -2, -1, 0, -4, 1, 1, 2]
spei6_era5land = [-2, 0, 1, 3, 3, 2, 4, 3, -1, -1, -4, -7,
                  -8, -9, -10, -10, -7, -3, 1, 2, 4, 3, 3, 2,
                  -2, 1, 1, 1, 1, 4, 7, 3, 3, 2, -2, -4,
                  -1, -2, -2, 0, 1, 2, 2, -1, 1, -1, -3, -4,
                  -4, -3, -1, 1, 2, 3, 4, 1, -1, -2, -3, -2,
                  -3, -1, 0, 1, 3, 5, 7, 6, 5, 5, 3, 2,
                  2, 1, 2, 3, 5, 5, 4, 3, 4, 5, -4, -5,
                  -6, -5, -3, -2, 0, 2, 4, 3, 2, 0, -2, -4,
                  -4, -3, -1, 0, 1, 2, 4, 4, 3, 2, 1, -1,
                  -2, -3, -3, -3, -3, -1, -2, -1, -4, 0, -1, 1]
spei6_gsmap = [3, 3, 3, -2, -2, -2, -2, -2, -2, -3, -4, -5,
               -6, -7, -8, -9, -5, -1, 0, 3, 5, 5, 5, 1,
               0, 0, 0, -2, -1, -1, 0, 1, 1, 0, -2, -3,
               -3, -3, -3, -2, -1, 1, 2, 2, 1, -1, -3, -5,
               -6, -4, -2, 1, 2, 2, 2, 1, 2, -1, -1, -2,
               -2, -1, 0, 2, 3, 6, 7, 8, 9, 9, 8, 6,
               5, 5, 5, 5, 5, 5, 5, 4, 6, 7, 6, 4,
               3, 3, 2, 4, 5, 5, 5, 4, 4, 3, 2, 1,
               0, -1, -2, -3, -4, -3, -1, 0, -1, -3, -4, -4,
               -5, -5, -4, -3, -2, -5, -6, -8, -2, 0, -1, -1]
spei6_imergf = [-2, -1, 1, 3, 2, 2, 4, 3, -1, -1, -4, -7,
                -8, -9, -9, -9, -6, -3, 1, 2, 4, 3, 3, 2,
                -3, 0, 1, 1, 1, 4, 6, 3, 3, 2, -2, -5,
                -2, -2, -2, 0, 1, 2, 3, 0, 1, -1, -3, -4,
                -4, -3, -1, 1, 2, 3, 4, 0, -1, -2, -3, -2,
                -3, -1, 0, 1, 3, 5, 7, 6, 5, 5, 3, 2,
                2, 1, 2, 3, 6, 5, 4, 3, 5, 5, -4, -4,
                -5, -4, -2, -1, 1, 3, 5, 5, 3, 1, -1, -2,
                -3, -2, 0, 1, 2, 4, 6, 5, 4, 3, 2, 0,
                -2, -3, -3, -3, -3, -2, 1, 1, -3, 2, 1, 3]
spei6_imergl = [-3, -1, 1, 2, 2, 2, 5, 4, 0, -1, -4, -7,
                -8, -9, -10, -10, -6, -2, 2, 3, 3, 3, 2, 1,
                -3, -3, -3, -3, -2, 2, 5, 3, 3, 2, -2, -4,
                -2, -2, -1, 0, 2, 3, 6, 2, 1, 0, -2, -3,
                -4, -3, -1, 1, 2, 3, 4, 2, 0, 0, 0, 1,
                0, 1, 1, 2, 3, 4, 6, 6, 5, 5, 5, 5,
                4, 4, 3, 3, 4, 5, 4, 3, 4, 3, -1, 0,
                -1, -1, -1, 0, 1, 1, 2, 2, 1, 0, 1, 1,
                0, 0, 0, 1, 1, 2, 3, 3, 3, 2, 2, 2,
                1, 1, 0, -1, -2, -2, -3, -5, -3, 1, 0, 2]

spei12_gauge = [2, 2, 1, 0, -2, -4, -5, -4, -6, -7, -7, -7,
                -6, -6, -6, -5, -3, 0, -1, 0, 3, 3, 2, 2,
                2, 1, 1, 0, -1, 1, 1, 0, -1, -1, -2, -2,
                -2, -2, -1, -1, -1, -1, -1, -5, -3, -2, -2, -1,
                -1, -1, -1, -1, -1, 0, 1, 1, -1, -2, -1, 1,
                2, 2, 3, 3, 3, 3, 4, 7, 6, 6, 8, 7,
                6, 5, 5, 5, 4, 2, 1, -1, 2, 2, 1, 1,
                1, 1, 1, 1, 1, 2, 1, 2, 3, 1, 2, 2,
                3, 3, 3, 3, 3, 3, 3, 2, 1, -1, -2, -1,
                -1, -7, -7, -8, -7, -3, 3, 0, -3, 4, 1, 5]
spei12_cmorph = [2, 2, 1, 0, -2, -4, -5, -4, -6, -7, -7, -7,
                 -7, -7, -6, -5, -3, 0, -1, 0, 3, 3, 2, 2,
                 2, 1, 0, 0, -1, 0, 0, -1, -2, -2, -2, -2,
                 -3, -3, -2, -2, -2, -2, -2, -5, -3, -3, -2, -2,
                 -2, -2, -2, -2, -2, -1, -1, -1, -2, -2, -1, 0,
                 1, 2, 2, 2, 3, 3, 3, 6, 6, 5, 7, 6,
                 6, 5, 5, 5, 4, 2, 1, 0, 2, 2, 1, 1,
                 1, 1, 1, 1, 1, 2, 2, 3, 3, 2, 2, 2,
                 3, 3, 3, 4, 3, 3, 3, 2, 1, 0, 1, 0,
                 0, -6, -6, -7, -6, -2, 2, 0, -2, 3, 1, 3]
spei12_era5 = [3, 3, 2, 1, -2, -4, -4, -4, -6, -7, -7, -7,
               -6, -6, -6, -5, -3, 0, -1, 0, 4, 3, 3, 2,
               2, 2, 1, 1, 0, 1, 1, 1, 0, 0, -1, -1,
               -1, -1, -1, -1, -1, -1, -1, -4, -2, -2, -1, -1,
               -1, -1, -1, -1, 0, 0, 1, 1, 0, -1, 0, 1,
               2, 2, 3, 3, 3, 3, 4, 7, 6, 6, 8, 7,
               6, 5, 5, 5, 4, 2, 0, -2, 1, 1, 0, 0,
               0, 0, 0, 0, 0, 1, 0, 1, 2, 1, 1, 1,
               1, 2, 2, 2, 2, 2, 2, 1, 0, -1, -2, -2,
               -2, -7, -8, -8, -7, -4, 1, -1, -3, 3, 1, 4]
spei12_era5land = [4, 4, 4, 2, -2, -4, -3, -2, -6, -7, -7, -7,
                   -6, -6, -6, -5, -3, 0, -1, 1, 5, 4, 4, 4,
                   5, 4, 3, 3, 2, 3, 3, 2, 2, 2, 1, 1,
                   0, -1, -1, -1, -1, -1, -1, -4, -2, -1, -1, 0,
                   -1, -1, 0, 0, 0, 1, 1, 1, 0, -2, -1, 1,
                   2, 2, 3, 3, 3, 3, 4, 7, 6, 6, 7, 7,
                   6, 5, 5, 5, 4, 2, -1, -3, 0, -1, -2, -3,
                   -1, -2, -3, -2, -1, -1, -1, 0, 0, 0, 0, 1,
                   0, 0, 0, 1, 0, -1, -1, -2, -3, -3, -2, -3,
                   -3, -7, -8, -9, -8, -6, -4, 0, -2, 3, 0, 4]
spei12_gsmap = [1, 1, 0, -1, -3, -4, -5, -5, -6, -7, -7, -8,
                -7, -6, -5, -4, -3, -1, 0, 0, 2, 2, 1, 0,
                0, 0, -1, -1, -2, -1, -1, -2, -3, -3, -2, -2,
                -2, -2, -2, -2, -2, -3, -2, -4, -3, -2, -2, -2,
                -3, -2, -2, -2, -2, -1, 0, 0, 0, -1, 0, 1,
                3, 5, 6, 7, 8, 8, 9, 9, 8, 8, 10, 9,
                9, 8, 8, 8, 10, 8, 7, 6, 6, 5, 8, 8,
                8, 7, 7, 7, 6, 5, 5, 4, 2, 1, 0, -2,
                -1, -1, -1, -1, -1, -1, -2, -1, -1, -2, -2, -3,
                -3, -5, -9, -9, -10, -5, -4, -11, -4, -2, 3, -2]
spei12_imergf = [2, 2, 1, 0, -2, -4, -5, -4, -6, -7, -8, -8,
                 -7, -6, -6, -5, -3, 0, -1, 0, 3, 3, 2, 2,
                 1, 1, 0, 0, -1, 0, 1, 0, -1, -1, -2, -2,
                 -2, -2, -1, -1, -1, -1, -1, -5, -3, -2, -2, -1,
                 -1, -1, -1, -1, -1, 0, 1, 0, -1, -2, -1, 1,
                 2, 2, 3, 3, 3, 3, 4, 7, 6, 6, 8, 7,
                 6, 5, 5, 5, 4, 2, 1, -1, 2, 2, 1, 1,
                 1, 1, 1, 1, 1, 2, 2, 2, 3, 2, 2, 2,
                 2, 2, 3, 3, 3, 2, 2, 2, 1, -1, -1, -1,
                 -1, -6, -7, -7, -6, -2, 3, 0, -3, 3, 1, 4]
spei12_imergl = [1, 1, 1, 0, -2, -4, -5, -4, -6, -7, -8, -8,
                 -7, -6, -6, -5, -3, 0, -1, 0, 3, 3, 2, 2,
                 2, 2, 1, 1, 1, 1, 1, 1, 1, 0, 0, 0,
                 0, 0, 0, 0, 0, 0, 1, -3, -1, -1, -1, 0,
                 0, 0, 0, 0, 0, 1, 1, 1, 1, 0, 1, 2,
                 3, 3, 4, 4, 4, 4, 5, 8, 7, 6, 7, 6,
                 6, 5, 5, 5, 4, 2, 1, 0, 2, 1, 1, 1,
                 1, 1, 1, 1, 1, 2, 2, 2, 2, 2, 2, 2,
                 2, 2, 2, 2, 2, 2, 2, 2, 0, -1, -2, -2,
                 -2, 1, -6, -6, -6, -4, 0, -3, -5, -2, 0, 3]

PANELS = [
    ("SPI 1", [spi1_gauge, spi1_cmorph, spi1_era5, spi1_era5land, spi1_gsmap, spi1_imergf, spi1_imergl]),
    ("SPI 3", [spi3_gauge, spi3_cmorph, spi3_era5, spi3_era5land, spi3_gsmap, spi3_imergf, spi3_imergl]),
    ("SPI 6", [spi6_gauge, spi6_cmorph, spi6_era5, spi6_era5land, spi6_gsmap, spi6_imergf, spi6_imergl]),
    ("SPI 12", [spi12_gauge, spi12_cmorph, spi12_era5, spi12_era5land, spi12_gsmap, spi12_imergf, spi12_imergl]),
    ("SPEI 1", [spei1_gauge, spei1_cmorph, spei1_era5, spei1_era5land, spei1_gsmap, spei1_imergf, spei1_imergl]),
    ("SPEI 3", [spei3_gauge, spei3_cmorph, spei3_era5, spei3_era5land, spei3_gsmap, spei3_imergf, spei3_imergl]),
    ("SPEI 6", [spei6_gauge, spei6_cmorph, spei6_era5, spei6_era5land, spei6_gsmap, spei6_imergf, spei6_imergl]),
    ("SPEI 12", [spei12_gauge, spei12_cmorph, spei12_era5, spei12_era5land, spei12_gsmap, spei12_imergf, spei12_imergl]),
]

# shaded drought periods per panel
HIGHLIGHTS = [
    [],
    [("2010-09-02", "2010-12-03")],
    [("2009-07-05", "2009-09-05"), ("2010-09-02", "2011-03-04")],
    [("2009-07-05", "2009-10-05"), ("2010-11-02", "2011-09-02")],
    [],
    [("2010-07-23", "2010-09-27")],
    [("2010-04-27", "2010-09-27")],
    [("2010-01-23", "2010-08-26"), ("2018-07-23", "2018-10-30")],
]

# pixel boxes of the panels
COL_X = [(22, 532), (557, 1069)]
ROW_Y = [(3, 120), (132, 249), (261, 378), (390, 509)]
LEGEND_TEXT_X = [42, 98, 181, 243, 305, 382, 457]

FONT = "Liberation Sans, Arial, sans-serif"

fig = go.Figure()
layout = {}

for p, (label, values) in enumerate(PANELS):
    col, row = divmod(p, 4)
    sfx = "" if p == 0 else str(p + 1)
    x0, x1 = COL_X[col]
    top, bot = ROW_Y[row]

    layout["xaxis" + sfx] = dict(
        domain=[x0 / W, x1 / W], anchor="y" + sfx, type="date",
        range=["2009-06-04", "2019-06-01"],
        tick0="2010-01-01", dtick="M12", tickformat="%Y",
        ticks="inside", ticklen=4, tickcolor="#777", tickwidth=1,
        showline=True, mirror=True, linecolor="#8a8a8a", linewidth=1,
        showgrid=False, zeroline=False,
        tickfont=dict(size=7.5, color="#222", family=FONT),
    )
    layout["yaxis" + sfx] = dict(
        domain=[1 - bot / H, 1 - top / H], anchor="x" + sfx,
        range=[-2.5, 2.5], tickvals=[-2, -1, 0, 1, 2],
        ticktext=["-2", "-1", "0", "1", "2"],
        ticks="inside", ticklen=4, tickcolor="#777", tickwidth=1,
        showline=True, mirror=True, linecolor="#8a8a8a", linewidth=1,
        showgrid=False, zeroline=False,
        tickfont=dict(size=7.5, color="#222", family=FONT),
        title=dict(text=label, standoff=3, font=dict(size=8, color="#222", family=FONT)),
    )

    for s, name in enumerate(SERIES):
        k = p * 7 + s + 1
        lg = "legend" if k == 1 else f"legend{k}"
        fig.add_trace(go.Scatter(
            x=DATES, y=[v / 10 for v in values[s]], name=name,
            mode="lines+markers",
            line=dict(color=COLORS[s], width=1),
            marker=dict(size=3, color=COLORS[s]),
            xaxis="x" + sfx, yaxis="y" + sfx, legend=lg,
            hoverinfo="skip",
        ))
        layout[lg] = dict(
            x=(x0 + LEGEND_TEXT_X[s] - 40) / W, xanchor="left",
            y=1 - (top + 11.7) / H, yanchor="middle",
            orientation="h", bgcolor="rgba(0,0,0,0)",
            font=dict(size=7.2, color="#222", family=FONT),
        )

    for a, b in HIGHLIGHTS[p]:
        fig.add_shape(
            type="rect", xref="x" + sfx, yref=f"y{sfx} domain",
            x0=a, x1=b, y0=0, y1=1,
            fillcolor="#ffffa8", line_width=0, layer="below",
        )

# panel labels
for txt, px in [("(a)", 257), ("(b)", 791)]:
    fig.add_annotation(
        x=px / W, y=0, xref="paper", yref="paper", yanchor="bottom",
        text=f"<b>{txt}</b>", showarrow=False,
        font=dict(size=15, color="#111", family="Liberation Serif, Times New Roman, serif"),
    )

fig.update_layout(
    width=W, height=H,
    margin=dict(l=0, r=0, t=0, b=0),
    plot_bgcolor="white", paper_bgcolor="white",
    showlegend=True,
    font=dict(family=FONT),
    **layout,
)

# drop the browser's default page margin so the figure sits at (0, 0)
fig.write_html(
    "out.html",
    config={"displayModeBar": False},
    post_script="document.body.style.margin = '0px';",
)
